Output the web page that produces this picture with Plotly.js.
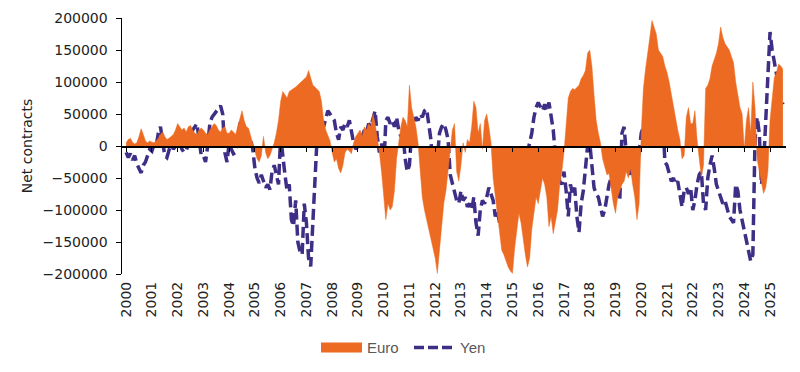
<!DOCTYPE html>
<html>
<head>
<meta charset="utf-8">
<script src="https://cdn.plot.ly/plotly-3.0.1.min.js"></script>
<style>
  html, body { margin: 0; padding: 0; background: #fff; }
  #chart { width: 800px; height: 372px; }
</style>
</head>
<body>
<div id="chart"></div>
<script>
// Monthly readings, Jan 2000 - Jul 2025 (net contracts)
const startYear = 2000;
const euro = [
  5000, 10000, 12000, 6000, 3000, 5000, 15000, 27000, 18000, 8000, 5000, 8000,            // 2000
  6000, 5000, 8000, 12000, 18000, 22000, 15000, 10000, 12000, 15000, 18000, 25000,        // 2001
  35000, 30000, 25000, 28000, 22000, 30000, 32000, 25000, 20000, 18000, 25000, 28000,     // 2002
  25000, 20000, 18000, 25000, 30000, 35000, 32000, 25000, 22000, 28000, 30000, 20000,     // 2003
  20000, 25000, 22000, 18000, 30000, 45000, 55000, 40000, 30000, 28000, 15000, 5000,      // 2004
  -10000, -20000, -25000, -15000, 15000, -10000, -20000, -15000, -5000, 5000, 20000, 40000, // 2005
  70000, 85000, 80000, 75000, 85000, 88000, 90000, 92000, 95000, 98000, 102000, 105000,   // 2006
  108000, 118000, 105000, 95000, 92000, 88000, 85000, 70000, 40000, 25000, 15000, 8000,   // 2007
  -10000, -25000, -20000, -35000, -42000, -30000, -10000, -5000, -8000, -12000, 5000, 15000, // 2008
  20000, 25000, 15000, 30000, 25000, 35000, 30000, 50000, 35000, 15000, -10000, -40000,   // 2009
  -80000, -115000, -90000, -100000, -95000, -70000, -20000, 10000, 30000, 45000, 40000, 30000, // 2010
  95000, 60000, 45000, 30000, 5000, -40000, -80000, -100000, -115000, -130000, -145000, -160000, // 2011
  -175000, -199000, -160000, -120000, -90000, -70000, -40000, -15000, 25000, 35000, -40000, -55000, // 2012
  -30000, 5000, -10000, 10000, 5000, 30000, 70000, 60000, 20000, 35000, -5000, 40000,     // 2013
  50000, 30000, 5000, -50000, -80000, -110000, -140000, -163000, -170000, -180000, -189000, -195000, // 2014
  -199000, -160000, -130000, -105000, -120000, -150000, -170000, -189000, -175000, -130000, -100000, -80000, // 2015
  -90000, -70000, -50000, -60000, -80000, -126000, -110000, -137000, -115000, -100000, -60000, -40000, // 2016
  -10000, 40000, 75000, 85000, 90000, 88000, 92000, 95000, 105000, 110000, 118000, 145000, // 2017
  150000, 125000, 80000, 40000, 20000, 5000, -20000, -35000, -45000, -43000, -70000, -90000, // 2018
  -105000, -80000, -70000, -60000, -55000, -40000, -50000, -35000, -60000, -80000, -115000, -90000, // 2019
  20000, 90000, 120000, 150000, 170000, 196000, 185000, 175000, 150000, 145000, 140000, 125000, // 2020
  115000, 100000, 80000, 60000, 45000, 25000, 10000, -20000, -15000, 45000, 60000, 35000, // 2021
  35000, 55000, 10000, -20000, -48000, -30000, 90000, 95000, 105000, 125000, 135000, 145000, // 2022
  160000, 186000, 170000, 160000, 155000, 150000, 140000, 130000, 100000, 80000, 60000, 50000, // 2023
  -5000, 40000, 60000, 20000, 100000, 60000, -20000, -40000, -60000, -74000, -65000, -40000, // 2024
  40000, 80000, 107000, 115000, 128000, 125000, 120000                                     // 2025
];
const yen = [
  -10000, -18000, -12000, -22000, -15000, -28000, -35000, -42000, -30000, -25000, -15000, -5000, // 2000
  -8000, 2000, 0, 20000, 30000, 5000, -15000, -18000, -5000, 5000, -5000, 0,               // 2001
  0, 5000, -5000, -10000, -8000, 5000, 15000, 25000, 30000, 35000, 10000, -15000,          // 2002
  -15000, -25000, 0, 35000, 45000, 50000, 55000, 60000, 63000, 50000, -10000, -25000,      // 2003
  5000, -5000, -12000, -10000, 10000, 35000, 40000, 20000, 5000, 0, 10000, -5000,          // 2004
  -35000, -50000, -58000, -45000, -55000, -65000, -60000, -68000, -40000, -30000, -45000, -60000, // 2005
  15000, -20000, -45000, -70000, -60000, -115000, -125000, -85000, -150000, -165000, -170000, -90000, // 2006
  -120000, -175000, -188000, -120000, -40000, 15000, 25000, 35000, 30000, 45000, 55000, 50000, // 2007
  45000, 40000, 20000, 10000, 30000, 25000, 35000, 30000, 40000, 20000, 5000, -5000,       // 2008
  0, 5000, 15000, 25000, 20000, 35000, 30000, 45000, 55000, 15000, -10000, 5000,           // 2009
  -40000, 40000, 45000, 35000, 40000, 30000, 45000, 25000, 15000, 20000, -20000, -40000,   // 2010
  -30000, 20000, 35000, 45000, 40000, 50000, 45000, 55000, 58000, 30000, 10000, -40000,    // 2011
  -65000, -20000, 20000, 30000, 35000, 25000, 10000, -45000, -60000, -75000, -85000, -90000, // 2012
  -70000, -85000, -80000, -95000, -90000, -100000, -80000, -120000, -140000, -100000, -85000, -90000, // 2013
  -80000, -65000, -75000, -85000, -110000, -100000, -120000, -90000, -60000, -45000, -70000, -65000, // 2014
  -50000, -110000, -95000, -40000, -30000, -25000, -20000, -10000, 5000, 20000, 45000, 60000, // 2015
  68000, 60000, 55000, 65000, 55000, 68000, 50000, 25000, -15000, -40000, -55000, -60000,  // 2016
  -40000, -70000, -110000, -60000, -75000, -65000, -110000, -135000, -90000, -70000, -40000, 0, // 2017
  5000, -30000, -65000, -75000, -80000, -95000, -110000, -100000, -80000, -60000, -50000, -30000, // 2018
  -40000, -75000, -85000, 20000, 30000, -10000, -30000, -45000, -20000, -35000, -30000, -10000, // 2019
  20000, 30000, 25000, 35000, 30000, 40000, 35000, 40000, 30000, 45000, 50000, -25000,     // 2020
  -30000, -45000, -55000, -50000, -60000, -55000, -75000, -95000, -70000, -65000, -75000, -65000, // 2021
  -100000, -85000, -60000, -45000, -40000, -90000, -100000, -50000, -30000, -15000, -35000, -60000, // 2022
  -70000, -80000, -90000, -85000, -100000, -110000, -115000, -120000, -60000, -70000, -100000, -115000, // 2023
  -130000, -145000, -160000, -180000, -170000, 10000, 45000, 20000, -60000, -30000, 40000, 110000, // 2024
  178000, 150000, 130000, 110000, 95000, 75000, 65000                                      // 2025
];
const tickYears = [2000,2001,2002,2003,2004,2005,2006,2007,2008,2009,2010,2011,2012,
                   2013,2014,2015,2016,2017,2018,2019,2020,2021,2022,2023,2024,2025];
const tickLabels = tickYears.map(String);

// month positions on a decimal-year axis
const months = euro.map((_, i) => startYear + i / 12);

const ORANGE = '#EC6A21';
const PURPLE = '#3F2E85';
const FONT = 'DejaVu Sans, Verdana, sans-serif';

const traces = [
  { // Euro area (drawn on the zero-line axis)
    x: months, y: euro, type: 'scatter', mode: 'lines',
    xaxis: 'x2', yaxis: 'y',
    fill: 'tozeroy', fillcolor: ORANGE,
    line: { color: ORANGE, width: 0.5 },
    showlegend: false, hoverinfo: 'x+y', name: 'Euro'
  },
  { // Yen dashed line
    x: months, y: yen, type: 'scatter', mode: 'lines',
    xaxis: 'x', yaxis: 'y',
    line: { color: PURPLE, width: 3.5, dash: '11px,5px' },
    name: 'Yen', showlegend: false
  },
  { // legend entries
    x: [null], y: [null], type: 'scatter', mode: 'lines', xaxis: 'x', yaxis: 'y',
    line: { color: ORANGE, width: 10 }, name: 'Euro'
  },
  {
    x: [null], y: [null], type: 'scatter', mode: 'lines', xaxis: 'x', yaxis: 'y',
    line: { color: PURPLE, width: 3.5, dash: '10px,4px' }, name: 'Yen'
  }
];

const xRange = [1999.84, 2025.62];

const layout = {
  width: 800, height: 372,
  margin: { l: 122, r: 14, t: 18, b: 98 },
  paper_bgcolor: '#fff', plot_bgcolor: '#fff',
  font: { family: FONT, size: 14, color: '#222' },
  showlegend: true,
  legend: {
    orientation: 'h', xref: 'container', yref: 'container',
    x: 0.395, xanchor: 'left', y: 0.065, yanchor: 'middle',
    font: { family: 'Liberation Sans, Arial, sans-serif', size: 15, color: '#595959' },
    itemwidth: 41, traceorder: 'normal', entrywidth: 37, entrywidthmode: 'pixels'
  },
  xaxis: {
    range: xRange, tickmode: 'array', tickvals: tickYears, ticktext: tickLabels,
    tickangle: -90, showline: false, ticks: '', showgrid: false, zeroline: false,
    ticklabelstandoff: 4,
    tickfont: { family: FONT, size: 14, color: '#222' }
  },
  xaxis2: {
    range: xRange, overlaying: 'x', anchor: 'free', position: 0.5,
    showline: true, linecolor: '#000', linewidth: 1.5,
    tickmode: 'array', tickvals: tickYears, ticks: 'outside', ticklen: 4,
    tickcolor: '#000', tickwidth: 1, showticklabels: false, showgrid: false, zeroline: false
  },
  yaxis: {
    range: [-200000, 200000], dtick: 50000, tick0: 0, tickformat: 'd',
    showline: true, linecolor: '#000', linewidth: 1.5,
    ticks: 'outside', ticklen: 5, tickcolor: '#000',
    showgrid: false, zeroline: false, ticklabelstandoff: 5,
    tickfont: { family: FONT, size: 14, color: '#222' },
    title: { text: 'Net contracts', font: { family: FONT, size: 14, color: '#222' }, standoff: 6 }
  }
};

Plotly.newPlot('chart', traces, layout, { displayModeBar: false, staticPlot: true });
</script>
</body>
</html>
